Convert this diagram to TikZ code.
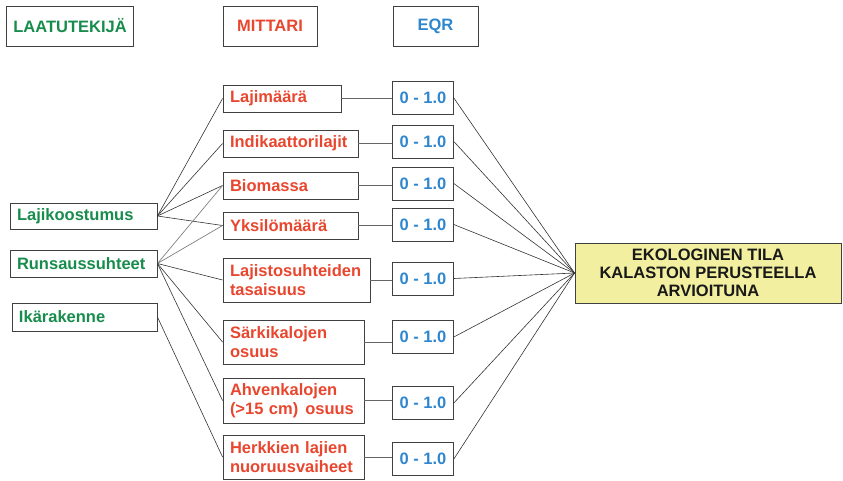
\documentclass[tikz,border=0pt]{standalone}
\usepackage{fontspec}
\setmainfont{Liberation Sans}
\usepackage{xcolor}
\usepackage{tikz}

\definecolor{tekija}{HTML}{178C4C}
\definecolor{mittari}{HTML}{E8462E}
\definecolor{eqr}{HTML}{2E86CE}
\definecolor{tila}{HTML}{F2F0A0}
\definecolor{reuna}{HTML}{404040}

\tikzset{
  laatikko/.style={draw=reuna, line width=0.9pt, inner xsep=7pt, inner ysep=0pt,
    font=\fontsize{16.5}{19.5}\selectfont\bfseries},
  tekbox/.style={laatikko, text=tekija, align=left},
  mitbox/.style={laatikko, text=mittari, align=left},
  eqrbox/.style={laatikko, text=eqr, minimum width=60pt, minimum height=33pt},
  viiva/.style={draw=black!80, line width=0.6pt},
  harmaa/.style={draw=black!50, line width=0.7pt},
  vaaka/.style={draw=black!60, line width=0.9pt}
}

\begin{document}
\begin{tikzpicture}[x=1pt, y=-1pt]
  \useasboundingbox (0,0) rectangle (843,480);

  % Headers
  \node[laatikko, text=tekija, minimum width=120pt, minimum height=40pt] (h1) at (70,26) {LAATUTEKIJÄ};
  \node[laatikko, text=mittari, minimum width=94pt, minimum height=40pt] (h2) at (270,26) {MITTARI};
  \node[laatikko, text=eqr, minimum width=85pt, minimum height=40pt] (h3) at (435.5,26) {EQR};

  % Quality factors
  \node[tekbox, text width=133pt, minimum height=26pt] (lk) at (83.5,216) {Lajikoostumus};
  \node[tekbox, text width=133pt, minimum height=27pt] (rs) at (83.5,263.5) {Runsaussuhteet};
  \node[tekbox, text width=131pt, minimum height=28pt] (ik) at (84.5,317) {Ikärakenne};

  % Metrics
  \node[mitbox, text width=104pt, minimum height=27pt] (m1) at (282,98.5) {Lajimäärä};
  \node[mitbox, text width=121pt, minimum height=27pt] (m2) at (290.5,143.5) {Indikaattorilajit};
  \node[mitbox, text width=121pt, minimum height=27pt] (m3) at (290.5,185.5) {Biomassa};
  \node[mitbox, text width=121pt, minimum height=27pt] (m4) at (290.5,225.5) {Yksilömäärä};
  \node[mitbox, text width=133pt, minimum height=44pt] (m5) at (296.5,280) {Lajistosuhteiden\\tasaisuus};
  \node[mitbox, text width=127pt, minimum height=44pt] (m6) at (293.5,342) {Särkikalojen\\osuus};
  \node[mitbox, text width=127pt, minimum height=45pt] (m7) at (293.5,400.5) {Ahvenkalojen\\\mbox{(>15 cm)\hspace{7pt}osuus}};
  \node[mitbox, text width=127pt, minimum height=44pt] (m8) at (293.5,457) {Herkkien lajien\\nuoruusvaiheet};

  % EQR values
  \node[eqrbox] (e1) at (423,98) {0 - 1.0};
  \node[eqrbox] (e2) at (423,141.5) {0 - 1.0};
  \node[eqrbox] (e3) at (423,183.5) {0 - 1.0};
  \node[eqrbox] (e4) at (423,224.5) {0 - 1.0};
  \node[eqrbox] (e5) at (423,278.5) {0 - 1.0};
  \node[eqrbox] (e6) at (423,337) {0 - 1.0};
  \node[eqrbox] (e7) at (423,403) {0 - 1.0};
  \node[eqrbox] (e8) at (423,459) {0 - 1.0};

  % Ecological status
  \node[laatikko, fill=tila, text=black!90, align=center, minimum width=266pt, minimum height=60pt,
    font=\fontsize{16.5}{18.3}\selectfont\bfseries] (tila) at (708,273)
    {EKOLOGINEN TILA\\KALASTON PERUSTEELLA\\ARVIOITUNA};

  % Factors to metrics
  \draw[viiva] (lk.east) -- (m1.west);
  \draw[viiva] (lk.east) -- (m2.west);
  \draw[viiva] (lk.east) -- (m3.west);
  \draw[viiva] (lk.east) -- (m4.west);
  \draw[harmaa] (rs.east) -- (m3.west);
  \draw[harmaa] (rs.east) -- (m4.west);
  \draw[viiva] (rs.east) -- (m5.west);
  \draw[viiva] (rs.east) -- (m6.west);
  \draw[viiva] (rs.east) -- (m7.west);
  \draw[viiva] (ik.east) -- (m8.west);

  % Metrics to EQR
  \draw[vaaka] (m1.east) -- (m1.east -| e1.west);
  \draw[vaaka] (m2.east) -- (m2.east -| e2.west);
  \draw[vaaka] (m3.east) -- (m3.east -| e3.west);
  \draw[vaaka] (m4.east) -- (m4.east -| e4.west);
  \draw[vaaka] (m5.east) -- (m5.east -| e5.west);
  \draw[vaaka] (m6.east) -- (m6.east -| e6.west);
  \draw[vaaka] (m7.east) -- (m7.east -| e7.west);
  \draw[vaaka] (m8.east) -- (m8.east -| e8.west);

  % EQR to status
  \draw[viiva] (e1.east) -- (tila.west);
  \draw[viiva] (e2.east) -- (tila.west);
  \draw[viiva] (e3.east) -- (tila.west);
  \draw[viiva] (e4.east) -- (tila.west);
  \draw[viiva] (e5.east) -- (tila.west);
  \draw[viiva] (e6.east) -- (tila.west);
  \draw[viiva] (e7.east) -- (tila.west);
  \draw[viiva] (e8.east) -- (tila.west);
\end{tikzpicture}
\end{document}
